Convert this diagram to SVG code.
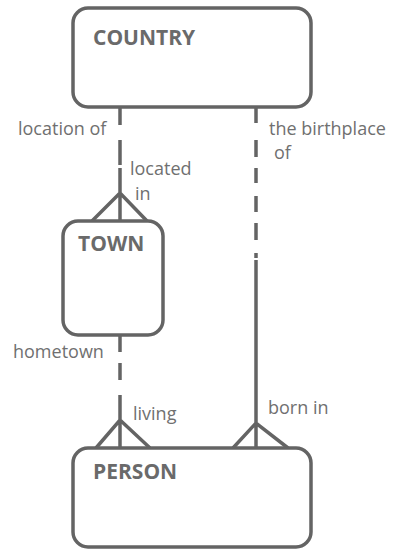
<svg xmlns="http://www.w3.org/2000/svg" width="397" height="549" viewBox="0 0 397 549">
<style>
.box{fill:#fff;stroke:#646464;stroke-width:3.5}
.title{font-family:"Open Sans","Liberation Sans",sans-serif;font-weight:bold;font-size:21px;fill:#6a6a6a}
.lbl{font-family:"Open Sans","Liberation Sans",sans-serif;font-size:18px;fill:#707070}
.ln{fill:none;stroke:#646464;stroke-width:3.5}
</style>
<rect width="397" height="549" fill="#fff"/>
<g id="connectors">
<path class="ln" d="M120,107 V125 M120,140 V165 M120,168 V221 M92,221 L120,193 L147,221"/>
<path class="ln" d="M120,335 V352 M120,363 V380 M120,395 V448 M96,448 L120,420 L150,448"/>
<path class="ln" d="M256,107 V123 M256,140 V157 M256,168 V183 M256,196 V212 M256,223 V240 M256,253 V258 M256,260 V448 M233,448 L256,423 L288,448"/>
<text class="lbl" x="18" y="135">location of</text>
<text class="lbl" x="130" y="175">located</text>
<text class="lbl" x="135" y="200">in</text>
<text class="lbl" x="269" y="135">the birthplace</text>
<text class="lbl" x="274" y="159">of</text>
<text class="lbl" x="13" y="358">hometown</text>
<text class="lbl" x="133" y="420">living</text>
<text class="lbl" x="268" y="414">born in</text>
</g>
<g id="country">
<rect class="box" x="73" y="8" width="238" height="99" rx="15"/>
<text class="title" x="93" y="45">COUNTRY</text>
</g>
<g id="town">
<rect class="box" x="63" y="221" width="100" height="114" rx="15"/>
<text class="title" x="78" y="251">TOWN</text>
</g>
<g id="person">
<rect class="box" x="73" y="448" width="238" height="99" rx="15"/>
<text class="title" x="93" y="479">PERSON</text>
</g>
</svg>
